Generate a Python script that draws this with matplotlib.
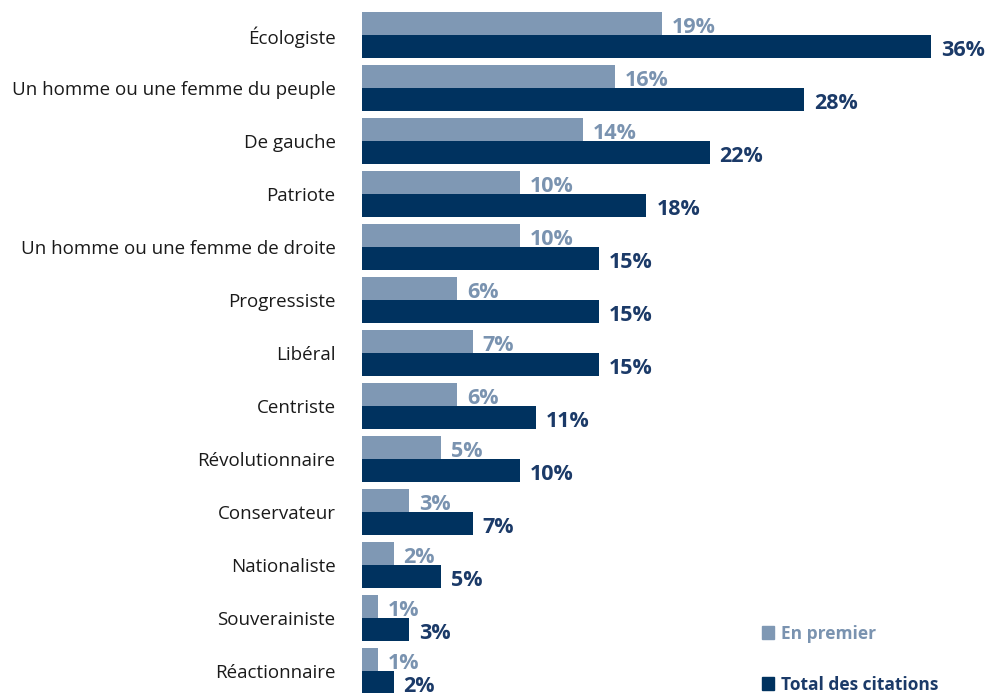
import matplotlib.pyplot as plt
from matplotlib.patches import Patch

categories = [
    "Écologiste",
    "Un homme ou une femme du peuple",
    "De gauche",
    "Patriote",
    "Un homme ou une femme de droite",
    "Progressiste",
    "Libéral",
    "Centriste",
    "Révolutionnaire",
    "Conservateur",
    "Nationaliste",
    "Souverainiste",
    "Réactionnaire",
]
en_premier = [19, 16, 14, 10, 10, 6, 7, 6, 5, 3, 2, 1, 1]
total_citations = [36, 28, 22, 18, 15, 15, 15, 11, 10, 7, 5, 3, 2]

light = "#7f98b4"
dark = "#00325f"
light_txt = "#7a93b0"
dark_txt = "#1b3a68"

plt.rcParams['font.family'] = ['Open Sans', 'DejaVu Sans']

W, H = 987, 693
fig = plt.figure(figsize=(W / 100, H / 100), dpi=100)
x0 = 362
px_per_pct = 15.8
row_px = 53
top_px = 35
ax = fig.add_axes([x0 / W, 0, 1 - x0 / W, 1])
ax.set_xlim(0, (W - x0) / px_per_pct)
ax.set_ylim((H - top_px) / row_px, -top_px / row_px)

y = list(range(len(categories)))
h = 23 / row_px
ax.barh([i - h / 2 for i in y], en_premier, height=h, color=light)
ax.barh([i + h / 2 for i in y], total_citations, height=h, color=dark)

# percentage labels just past the end of each bar
off = 10 / px_per_pct
dy = 4 / row_px
for i in y:
    ax.text(en_premier[i] + off, i - h / 2 + dy, f"{en_premier[i]}%",
            va='center', ha='left', fontsize=15.5, fontweight='bold',
            color=light_txt)
    ax.text(total_citations[i] + off, i + h / 2 + dy, f"{total_citations[i]}%",
            va='center', ha='left', fontsize=15.5, fontweight='bold',
            color=dark_txt)

ax.set_yticks(y)
ax.set_yticklabels(categories, fontsize=13.5, color="#1a1a1a")
ax.tick_params(axis='y', length=0, pad=19)
ax.set_xticks([])
for s in ax.spines.values():
    s.set_visible(False)

handles = [Patch(color=light), Patch(color=dark)]
fig.legend(handles, ["En premier", "Total des citations"],
           loc='upper left', bbox_to_anchor=(746 / W, 1 - 609 / H),
           frameon=False, handlelength=0.7, handleheight=0.7,
           handletextpad=0.4, labelspacing=1.9,
           prop={'size': 12.5, 'weight': 'bold'},
           labelcolor=[light_txt, dark_txt])

fig.savefig("out.png", dpi=100)
